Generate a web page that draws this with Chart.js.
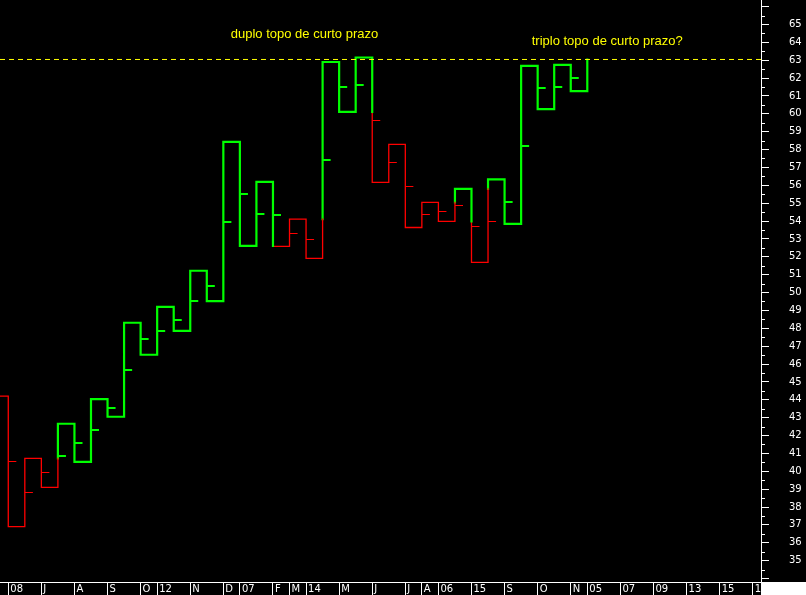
<!DOCTYPE html>
<html><head><meta charset="utf-8">
<script src="https://cdn.jsdelivr.net/npm/chart.js@4.4.1/dist/chart.umd.min.js"></script>
<style>html,body{margin:0;padding:0;background:#000;overflow:hidden}#wrap{width:806px;height:595px;position:relative}canvas{display:block}</style>
</head><body><div id="wrap"><canvas id="c" width="806" height="595"></canvas></div>
<script>
// ---- data ----
const startLevel = 44.2;
const kagiLevels = [36.9, 40.72, 39.1, 42.66, 40.53, 44.04, 43.05, 48.31, 46.52, 49.2,
  47.86, 51.22, 49.52, 58.43, 52.61, 56.19, 52.58, 54.11, 51.91, 62.9,
  60.11, 63.15, 56.16, 58.29, 53.64, 55.04, 53.98, 55.8, 51.69, 56.33,
  53.84, 62.68, 60.26, 62.74, 61.27, 63.04];
const tickMarks = [40.57, 38.82, 39.94, 40.85, 41.6, 42.32, 43.55, 45.68, 47.41, 47.86,
  48.48, 49.52, 50.38, 53.96, 55.52, 54.4, 54.35, 53.31, 52.97, 57.42,
  61.51, 61.62, 59.63, 57.28, 55.94, 54.37, 54.54, 54.87, 53.7, 53.98,
  55.06, 58.19, 61.45, 61.51, 62.01, null];
const resistanceLevel = 63.04;
const xTickCols = [0, 2, 4, 6, 8, 9, 11, 13, 14, 16, 17, 18, 20, 22, 24, 25, 26, 28, 30, 32, 34, 35, 37, 39, 41, 43, 45];
const xTickLabels = ["08", "J", "A", "S", "O", "12", "N", "D", "07", "F", "M", "14", "M", "J", "J", "A", "06", "15", "S", "O", "N", "05", "07", "09", "13", "15", "15"];
const yTickValues = [34, 35, 36, 37, 38, 39, 40, 41, 42, 43, 44, 45, 46, 47, 48, 49, 50, 51, 52, 53, 54, 55, 56, 57, 58, 59, 60, 61, 62, 63, 64, 65, 66];
const yTickLabels = [35, 36, 37, 38, 39, 40, 41, 42, 43, 44, 45, 46, 47, 48, 49, 50, 51, 52, 53, 54, 55, 56, 57, 58, 59, 60, 61, 62, 63, 64, 65];
const noteTexts = ["duplo topo de curto prazo", "triplo topo de curto prazo?"];
const noteCols = [13.45, 31.64];
const notePrices = [64.45, 64.06];

// ---- build kagi runs ----
const GREEN = '#00ff00', RED = '#ff0000', YELLOW = '#ffff00';
function buildKagi() {
  const runs = [], colInfo = [];
  let color = RED, cur = startLevel, peak = startLevel, trough = null;
  let run = { color, pts: [{ x: -0.5, y: cur }] };
  kagiLevels.forEach((next, i) => {
    run.pts.push({ x: i, y: cur });
    const rising = next > cur;
    const before = color;
    let sw = null;
    if (rising && color === RED && next > peak) sw = peak;
    if (!rising && color === GREEN && trough !== null && next < trough) sw = trough;
    if (sw !== null) {
      run.pts.push({ x: i, y: sw });
      runs.push(run);
      color = color === RED ? GREEN : RED;
      run = { color, pts: [{ x: i, y: sw }] };
    }
    run.pts.push({ x: i, y: next });
    colInfo.push({ sw, before, after: color, rising });
    if (rising) peak = next; else trough = next;
    cur = next;
  });
  runs.push(run);
  return { runs, colInfo };
}
const kagi = buildKagi();
function tickColor(i, v) {
  const c = kagi.colInfo[i];
  if (c.sw === null) return c.before;
  if (c.rising) return v > c.sw ? c.after : c.before;
  return v < c.sw ? c.after : c.before;
}
function makeTickImg(col, thick) {
  const cv = document.createElement('canvas');
  cv.width = 18; cv.height = thick ? 2 : 1;
  const g = cv.getContext('2d');
  g.fillStyle = col; g.fillRect(9, 0, 8, cv.height);
  return cv;
}
const tickImgs = { [GREEN]: makeTickImg(GREEN, true), [RED]: makeTickImg(RED, false) };

const tickData = [];
tickMarks.forEach((v, i) => { if (v !== null) tickData.push({ x: i, y: v }); });

const datasets = [];
datasets.push({
  data: tickData, showLine: false, pointRadius: 4, pointHoverRadius: 4,
  pointStyle: ctx => tickImgs[tickColor(ctx.raw.x, ctx.raw.y)]
});
datasets.push({
  data: [{ x: -0.5, y: resistanceLevel }, { x: 45.5, y: resistanceLevel }],
  showLine: true, pointRadius: 0, borderColor: YELLOW, borderWidth: 1, borderDash: [5, 4]
});
kagi.runs.forEach(r => datasets.push({
  data: r.pts, showLine: true, pointRadius: 0, tension: 0,
  borderColor: r.color, borderWidth: r.color === GREEN ? 2.2 : 1.3,
  borderJoinStyle: 'miter', borderCapStyle: 'square'
}));

const bgPlugin = { id: 'bg', beforeDraw(chart) {
  const { ctx, width, height } = chart; ctx.save(); ctx.fillStyle = '#000'; ctx.fillRect(0, 0, width, height); ctx.restore();
} };
const notesPlugin = { id: 'notes', afterDatasetsDraw(chart) {
  const { ctx, scales: { x, y } } = chart;
  ctx.save(); ctx.fillStyle = YELLOW; ctx.font = '13px "Liberation Sans"';
  ctx.textBaseline = 'middle'; ctx.textAlign = 'left';
  noteTexts.forEach((t, k) => ctx.fillText(t, x.getPixelForValue(noteCols[k]), y.getPixelForValue(notePrices[k])));
  ctx.restore();
} };
const axisExtras = { id: 'axisExtras', afterDraw(chart) {
  const { ctx, chartArea, scales: { y }, width, height } = chart;
  ctx.save(); ctx.strokeStyle = '#fff'; ctx.lineWidth = 1;
  for (let i = 0; i < yTickValues.length - 1; i++) {
    const v = (yTickValues[i] + yTickValues[i + 1]) / 2;
    const py = Math.round(y.getPixelForValue(v)) + 0.5;
    ctx.beginPath(); ctx.moveTo(chartArea.right, py); ctx.lineTo(chartArea.right + 4, py); ctx.stroke();
  }
  ctx.fillStyle = '#fff';
  ctx.fillRect(chartArea.right, chartArea.bottom, width - chartArea.right, height - chartArea.bottom);
  ctx.restore();
} };

new Chart(document.getElementById('c'), {
  type: 'scatter',
  data: { datasets },
  options: {
    responsive: false, animation: false, devicePixelRatio: 1,
    layout: { padding: 0, autoPadding: false },
    plugins: { legend: { display: false }, tooltip: { enabled: false } },
    scales: {
      x: {
        type: 'linear', position: 'bottom', min: -0.5, max: 45.5,
        afterBuildTicks: s => { s.ticks = xTickCols.map(v => ({ value: v })); },
        afterFit: s => { s.height = 13; s.paddingLeft = 0; s.paddingRight = 0; },
        grid: { drawOnChartArea: false, color: '#fff', tickLength: 13 },
        border: { color: '#fff', width: 1 },
        ticks: { color: '#fff', font: { family: 'DejaVu Sans', size: 10 }, align: 'start', labelOffset: 2,
          padding: -12, autoSkip: false, maxRotation: 0, minRotation: 0,
          callback: (v, i) => xTickLabels[i] }
      },
      y: {
        type: 'linear', position: 'right', min: 33.805, max: 66.368,
        afterBuildTicks: s => { s.ticks = yTickValues.map(v => ({ value: v })); },
        afterFit: s => { s.width = 45; s.paddingTop = 0; s.paddingBottom = 0; },
        grid: { drawOnChartArea: false, color: '#fff', tickLength: 8 },
        border: { color: '#fff', width: 1 },
        ticks: { color: '#fff', font: { family: 'DejaVu Sans', size: 10 }, padding: 20,
          callback: v => yTickLabels.includes(v) ? String(v) : '' }
      }
    }
  },
  plugins: [bgPlugin, notesPlugin, axisExtras]
});
</script></body></html>
